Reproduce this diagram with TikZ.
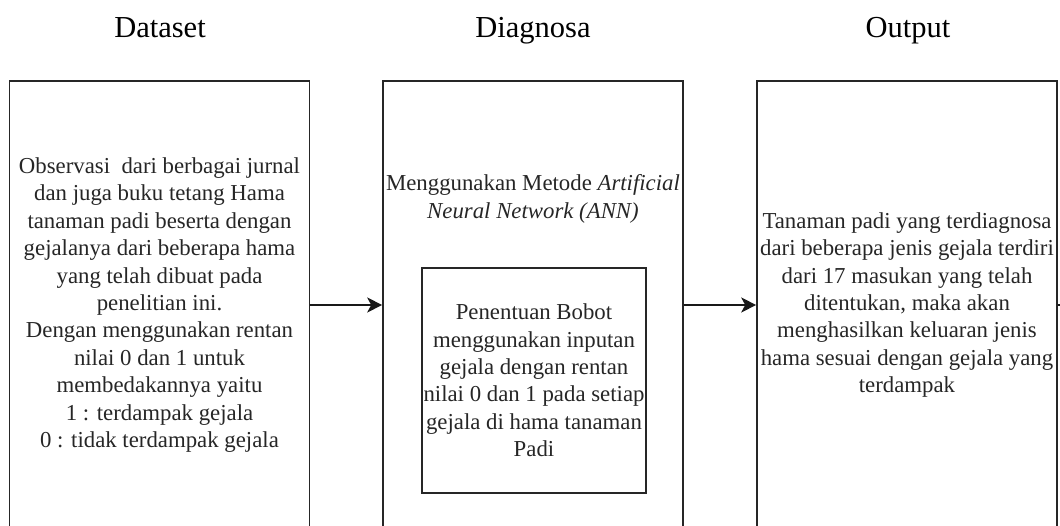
\documentclass[tikz,border=0pt]{standalone}
\usepackage{fontspec}
\setmainfont{Liberation Serif}
\usetikzlibrary{arrows.meta}

\begin{document}
\begin{tikzpicture}[x=1pt,y=-1pt,
  panel/.style={draw=black!85, line width=1.6pt, rectangle, align=center,
    inner sep=0pt, minimum width=300pt, minimum height=448pt,
    font=\fontsize{22.8}{27.4}\selectfont, text=black!85},
  innerbox/.style={draw=black!85, line width=1.6pt, rectangle, align=center,
    inner sep=0pt, minimum width=224pt, minimum height=225pt,
    font=\fontsize{22.8}{27.4}\selectfont, text=black!85},
  bodytext/.style={align=center, inner sep=0pt,
    font=\fontsize{22.8}{27.4}\selectfont, text=black!85},
  heading/.style={inner sep=0pt, anchor=base, font=\fontsize{30.5}{36}\selectfont},
  flow/.style={draw=black!90, line width=1.6pt,
    -{Stealth[length=15pt,width=15pt,inset=4pt]}}
]
\useasboundingbox (0,0) rectangle (1060,526);

% column headings, sharing one baseline
\node[heading] (hdata) at (160,37.5) {Dataset};
\node[heading] (hdiag) at (533,37.5) {Diagnosa};
\node[heading] (hout)  at (908,37.5) {Output};

% dataset panel
\node[panel] (data) at (159.5,305) {Observasi\ \ dari berbagai jurnal\\
  dan juga buku tetang Hama\\
  tanaman padi beserta dengan\\
  gejalanya dari beberapa hama\\
  yang telah dibuat pada\\
  penelitian ini.\\
  Dengan menggunakan rentan\\
  nilai 0 dan 1 untuk\\
  membedakannya yaitu\\
  1 : terdampak gejala\\
  0 : tidak terdampak gejala};

% diagnosis panel
\node[panel] (diag) at (533,305) {};
\node[bodytext] (method) at (533,199) {Menggunakan Metode \textit{Artificial}\\
  \textit{Neural Network (ANN)}};
\node[innerbox] (weights) at (534,380.5) {Penentuan Bobot\\
  menggunakan inputan\\
  gejala dengan rentan\\
  nilai 0 dan 1 pada setiap\\
  gejala di hama tanaman\\
  Padi};

% output panel
\node[panel] (out) at (907,305) {Tanaman padi yang terdiagnosa\\
  dari beberapa jenis gejala terdiri\\
  dari 17 masukan yang telah\\
  ditentukan, maka akan\\
  menghasilkan keluaran jenis\\
  hama sesuai dengan gejala yang\\
  terdampak};

% connectors
\draw[flow] (data.east) -- (diag.west);
\draw[flow] (diag.east) -- (out.west);
\coordinate (beyond) at (1064,305);
\draw[draw=black!90, line width=1.6pt] (out.east) -- (beyond);
\end{tikzpicture}
\end{document}
